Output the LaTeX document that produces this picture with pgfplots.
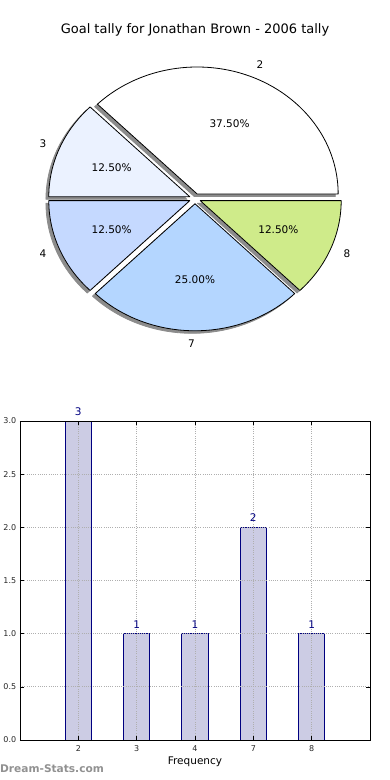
\documentclass[border=0pt]{standalone}
\usepackage{pgfplots}
\pgfplotsset{compat=1.18}
\usepackage{fontspec}
\setmainfont{DejaVu Sans}
\definecolor{cTwo}{RGB}{255,255,255}
\definecolor{cThree}{RGB}{235,242,255}
\definecolor{cFour}{RGB}{197,217,255}
\definecolor{cSeven}{RGB}{180,214,255}
\definecolor{cEight}{RGB}{207,235,138}
\definecolor{barfill}{RGB}{204,204,228}
\definecolor{baredge}{RGB}{0,0,128}
\definecolor{shadowc}{RGB}{140,140,140}
\definecolor{wmark}{RGB}{145,145,145}
\definecolor{gridc}{RGB}{175,175,175}

\def\pieTotal{8}
\def\pcx{195}\def\pcy{581.3}\def\prx{141}\def\pry{127}\def\pex{0.04}
\newcommand\pielabfont{\fontsize{10.5}{12}\selectfont}
\newcommand\piegeom[2]{%
 \pgfmathsetmacro\sa{360*#1/\pieTotal}%
 \pgfmathsetmacro\ea{360*(#1+#2)/\pieTotal}%
 \pgfmathsetmacro\ma{(\sa+\ea)/2}%
 \pgfmathsetmacro\vx{\pcx+\pex*\prx*cos(\ma)}%
 \pgfmathsetmacro\vy{\pcy+\pex*\pry*sin(\ma)}%
}
\newcommand\pieshadow[2]{%
 \piegeom{#1}{#2}%
 \pgfmathsetmacro\vx{\vx-0.02*\prx}%
 \pgfmathsetmacro\vy{\vy-0.02*\pry}%
 \edef\temp{\noexpand\filldraw[fill=shadowc,draw=shadowc,line width=0.8pt,line join=round] (axis cs:\vx,\vy) -- ++(\sa:\prx pt and \pry pt) arc[start angle=\sa, end angle=\ea, x radius=\prx pt, y radius=\pry pt] -- cycle;}%
 \temp}
\newcommand\pieslice[6]{%
 \piegeom{#1}{#2}%
 \pgfmathsetmacro\lx{\vx+1.1*\prx*cos(\ma)}%
 \pgfmathsetmacro\ly{\vy+1.1*\pry*sin(\ma)}%
 \pgfmathsetmacro\qx{\vx+0.6*\prx*cos(\ma)}%
 \pgfmathsetmacro\qy{\vy+0.6*\pry*sin(\ma)}%
 \edef\temp{\noexpand\filldraw[fill=#3,draw=black,line width=0.8pt,line join=round] (axis cs:\vx,\vy) -- ++(\sa:\prx pt and \pry pt) arc[start angle=\sa, end angle=\ea, x radius=\prx pt, y radius=\pry pt] -- cycle;
 \noexpand\node[anchor=#5,inner sep=0pt,font=\noexpand\pielabfont] at (axis cs:\lx,\ly) {#4};
 \noexpand\node[inner sep=0pt,font=\noexpand\pielabfont] at (axis cs:\qx,\qy) {#6};}%
 \temp}

\begin{document}
\begin{tikzpicture}[x=1pt,y=1pt]
\path[use as bounding box] (0,0) rectangle (390,780);
% ---------- pie ----------
\begin{axis}[at={(0pt,0pt)},anchor=south west,width=390pt,height=780pt,scale only axis,
  xmin=0,xmax=390,ymin=0,ymax=780,hide axis,clip=false]
\pieshadow{0}{3}
\pieshadow{3}{1}
\pieshadow{4}{1}
\pieshadow{5}{2}
\pieshadow{7}{1}
\pieslice{0}{3}{cTwo}{2}{west}{37.50\%}
\pieslice{3}{1}{cThree}{3}{east}{12.50\%}
\pieslice{4}{1}{cFour}{4}{east}{12.50\%}
\pieslice{5}{2}{cSeven}{7}{east}{25.00\%}
\pieslice{7}{1}{cEight}{8}{west}{12.50\%}
\node[font=\fontsize{13}{15}\selectfont] at (axis cs:195,750.5) {Goal tally for Jonathan Brown - 2006 tally};
\node[anchor=west,inner sep=0pt,text=wmark,font=\fontsize{10.6}{13}\selectfont\bfseries] at (axis cs:0,11) {Dream-Stats.com};
\end{axis}
% ---------- bars ----------
\begin{axis}[at={(20pt,40pt)},anchor=south west,width=350pt,height=319pt,scale only axis,
  xmin=-1,xmax=5,ymin=0,ymax=3,clip=false,axis on top,
  xtick={0,1,2,3,4},xticklabels={2,3,4,7,8},
  ytick={0,0.5,1,1.5,2,2.5,3},
  yticklabel style={/pgf/number format/fixed,/pgf/number format/fixed zerofill,/pgf/number format/precision=1,xshift=-0.3pt},
  /pgf/number format/assume math mode=true,
  tick label style={font=\fontsize{8}{9.5}\selectfont,text=black!85},
  xticklabel style={yshift=-2pt},
  tick align=inside,major tick length=4pt,
  tick style={black,line width=0.5pt},
  axis line style={black,line width=0.8pt},
  grid=major,major grid style={gridc,dash pattern=on 0.8pt off 1.4pt,line width=0.7pt},
  xlabel={Frequency},
  xlabel style={at={(axis description cs:0.5,0)},anchor=center,yshift=-21.5pt,font=\fontsize{10.5}{12}\selectfont},
]
\addplot[ybar,bar width=0.45,fill=barfill,draw=baredge,line width=0.8pt,
  nodes near coords,
  nodes near coords style={text=baredge,anchor=south,inner sep=0pt,yshift=5pt,font=\fontsize{10.5}{12}\selectfont,/pgf/number format/assume math mode=true}]
  coordinates {(0,3) (1,1) (2,1) (3,2) (4,1)};
\end{axis}
\end{tikzpicture}
\end{document}
